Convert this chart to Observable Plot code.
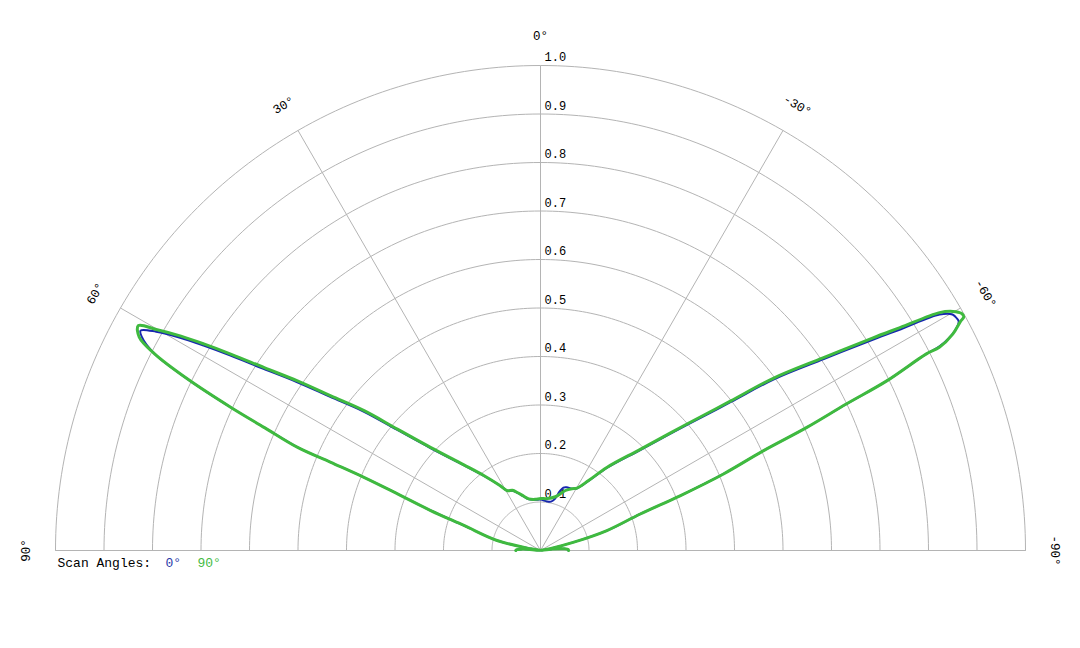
<!DOCTYPE html>
<html>
<head>
<meta charset="utf-8">
<script src="https://cdn.jsdelivr.net/npm/d3@7"></script>
<script src="https://cdn.jsdelivr.net/npm/@observablehq/plot@0.6"></script>
<style>
  html, body { margin: 0; padding: 0; background: #fff; }
  #chart svg { display: block; }
</style>
</head>
<body>
<div id="chart"></div>
<script>
// ---- data (angles in degrees, positive = left of vertical; r = normalized amplitude) ----
const ringValues = [0.1, 0.2, 0.3, 0.4, 0.5, 0.6, 0.7, 0.8, 0.9, 1.0];
const spokeAngles = [90, 60, 30, 0, -30, -60, -90];
const seriesNames = ["0°", "90°"];
const seriesColors = ["#1726b0", "#3fba3f"];

const greenAngle = [90, 88, 86, 84, 82, 80, 77, 71.9, 70, 68.4, 67.5, 67.2, 67, 66, 65.2, 64.1, 63, 62, 60.8,
  60.1, 59.2, 58.45, 57.6, 56.5, 55.1, 53.6, 51.6, 49.7, 46.8, 41.8, 37, 32, 29, 25, 21.5, 17, 12.7, 6, 0,
  -7.6, -15.5, -20, -22.6, -27, -30.3, -34.5, -38.7, -44.6, -49.2, -51.8, -53.5, -55.7, -57.4, -58.2,
  -59.2, -59.9, -60.6, -61.1, -61.4, -62.3, -63, -63, -63.9, -64.4, -65.2, -65.9, -67.3, -68.6, -69.9,
  -73.3, -76, -79, -81, -83, -86, -88, -90];
const greenR = [0.051, 0.049, 0.04, 0.022, 0.0, 0.02, 0.092, 0.166, 0.241, 0.317, 0.394, 0.469, 0.544, 0.623, 0.703, 0.808, 0.893, 0.937, 0.95,
  0.914, 0.863, 0.813, 0.755, 0.683, 0.611, 0.537, 0.464, 0.387, 0.31, 0.237, 0.193, 0.158, 0.141, 0.137, 0.128, 0.117, 0.109, 0.106, 0.107,
  0.108, 0.115, 0.126, 0.134, 0.143, 0.149, 0.175, 0.22, 0.293, 0.399, 0.498, 0.597, 0.705, 0.814, 0.872,
  0.958, 0.983, 0.996, 0.997, 0.986, 0.96, 0.923, 0.893, 0.795, 0.70, 0.605, 0.503, 0.409, 0.309, 0.219,
  0.143, 0.071, 0.02, 0.0, 0.025, 0.05, 0.057, 0.058];

const blueAngle = [90, 88, 86, 84, 82, 80, 77, 71.9, 70, 68.4, 67.5, 67.2, 67, 66, 65.2, 64.1, 63, 61.8, 61.2,
  60.35, 59.45, 58.7, 57.85, 56.75, 55.35, 53.85, 51.85, 49.95, 47.05, 42.05, 37.2, 32, 29, 25, 21.5, 17, 12.7, 6, 0,
  -7.6, -12, -15.5, -18, -20, -22.6, -27, -30.5, -34.75, -38.95, -44.85, -49.45, -52.05, -53.75, -55.95, -57.65, -58.45,
  -59.4, -60.2, -60.9, -61.3, -62.1, -62.9, -63, -63.9, -64.4, -65.2, -65.9, -67.3, -68.6, -69.9,
  -73.3, -76, -79, -81, -83, -86, -88, -90];
const blueR = [0.05, 0.048, 0.04, 0.022, 0.0, 0.02, 0.092, 0.166, 0.241, 0.317, 0.394, 0.469, 0.544, 0.623, 0.703, 0.808, 0.893, 0.933, 0.941,
  0.912, 0.863, 0.813, 0.755, 0.683, 0.611, 0.537, 0.464, 0.387, 0.31, 0.237, 0.193, 0.158, 0.141, 0.136, 0.127, 0.116, 0.108, 0.105, 0.105,
  0.102, 0.103, 0.11, 0.128, 0.138, 0.141, 0.143, 0.149, 0.175, 0.22, 0.293, 0.399, 0.498, 0.597, 0.705, 0.814, 0.872,
  0.956, 0.979, 0.983, 0.983, 0.966, 0.925, 0.893, 0.795, 0.70, 0.605, 0.503, 0.409, 0.309, 0.219,
  0.143, 0.071, 0.02, 0.0, 0.025, 0.05, 0.056, 0.057];

// ---- helpers: polar -> cartesian (data units) ----
const rad = Math.PI / 180;
const px = (a, r) => -r * Math.sin(a * rad);
const py = (a, r) => r * Math.cos(a * rad);

const toRows = (angles, rs) => angles.map((a, i) => ({a, r: rs[i]}));
const green = toRows(greenAngle, greenR);
const blue = toRows(blueAngle, blueR);

// grid ring geometry
const arcSteps = d3.range(-90, 90.5, 1);
const ringRows = ringValues.flatMap(v => arcSteps.map(a => ({a, r: v, ring: v})));
const labelR = 1.06;

const font = "'Liberation Mono', 'Courier New', monospace";

const chart = Plot.plot({
  width: 1080,
  height: 648,
  marginTop: 65,
  marginBottom: 98,
  marginLeft: 55,
  marginRight: 55,
  x: {domain: [-1, 1], axis: null},
  y: {domain: [0, 1], axis: null},
  style: {fontFamily: font, fontSize: "12px", color: "#000", background: "#fff", overflow: "visible"},
  marks: [
    // rings
    Plot.line(ringRows, {x: d => px(d.a, d.r), y: d => py(d.a, d.r), z: "ring", stroke: "#b4b4b4", strokeWidth: 1}),
    // spokes
    Plot.link(spokeAngles, {x1: 0, y1: 0, x2: a => px(a, 1), y2: a => py(a, 1), stroke: "#b4b4b4", strokeWidth: 1}),
    // ring labels
    Plot.text(ringValues, {x: 0, y: d => d, text: d => d.toFixed(1), textAnchor: "start", dx: 4, dy: -8, fill: "#000", fontSize: 12}),
    // angle labels
    Plot.text(spokeAngles, {x: a => px(a, labelR), y: a => py(a, labelR), text: a => `${a}°`, rotate: a => -a, textAnchor: "middle", fill: "#000", fontSize: 12.5}),
    // series
    Plot.line(blue, {x: d => px(d.a, d.r), y: d => py(d.a, d.r), stroke: seriesColors[0], strokeWidth: 2, curve: "catmull-rom"}),
    Plot.line(green, {x: d => px(d.a, d.r), y: d => py(d.a, d.r), stroke: seriesColors[1], strokeWidth: 3, strokeLinejoin: "round", curve: "catmull-rom"}),
    // legend
    Plot.text(["Scan Angles:"], {x: -1, y: 0, text: d => d, textAnchor: "start", dx: 2, dy: 12, fill: "#000", fontSize: 13}),
    Plot.text([seriesNames[0]], {x: -1, y: 0, text: d => d, textAnchor: "start", dx: 110, dy: 12, fill: "#2a3aa8", fontSize: 13}),
    Plot.text([seriesNames[1]], {x: -1, y: 0, text: d => d, textAnchor: "start", dx: 142, dy: 12, fill: "#44bb44", fontSize: 13})
  ]
});

document.getElementById("chart").append(chart);
</script>
</body>
</html>
